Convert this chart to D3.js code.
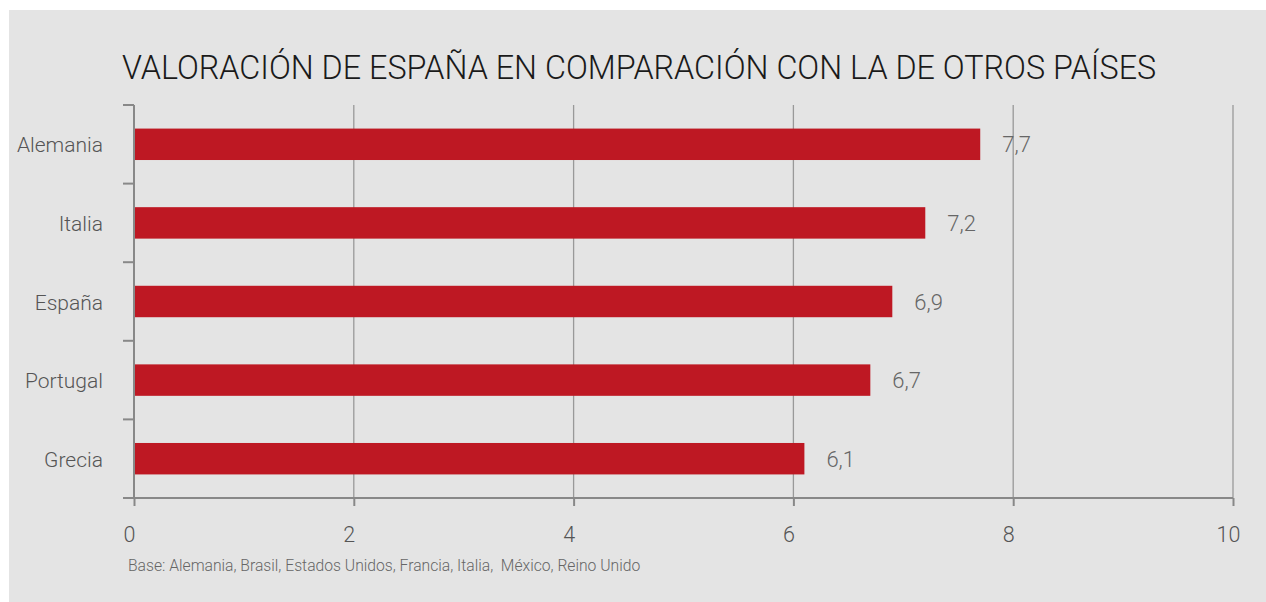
<!DOCTYPE html>
<html><head><meta charset="utf-8">
<script src="https://cdnjs.cloudflare.com/ajax/libs/d3/7.8.5/d3.min.js"></script>
<style>body{margin:0;background:#fff;font-family:Roboto,sans-serif;} svg{display:block;}</style>
</head><body>
<svg id="chart" width="1266" height="602"></svg>
<script>
const categories = ["Alemania", "Italia", "España", "Portugal", "Grecia"];
const values = [7.7, 7.2, 6.9, 6.7, 6.1];
const valueLabels = ["7,7", "7,2", "6,9", "6,7", "6,1"];
const xTicks = [0, 2, 4, 6, 8, 10];
const title = "VALORACIÓN DE ESPAÑA EN COMPARACIÓN CON LA DE OTROS PAÍSES";
const note = "Base: Alemania, Brasil, Estados Unidos, Francia, Italia,  México, Reino Unido";

(function () {
const svg = d3.select("#chart");
svg.append("rect").attr("x", 9).attr("y", 10).attr("width", 1257).attr("height", 592).attr("fill", "#e4e4e4");

const pL = 134, pR = 1233, pT = 105, pB = 498;
const x = d3.scaleLinear().domain([0, 10]).range([pL, pR]);
const y = d3.scaleBand().domain(categories).range([pT, pB]).paddingInner(0.6).paddingOuter(0.3);

svg.append("text").attr("x", 122).attr("y", 78.5).attr("font-size", 32.3).attr("font-weight", 300)
  .attr("fill", "#1a1a1a").text(title);

// grid
svg.append("g").selectAll("line").data(xTicks.slice(1)).join("line")
  .attr("x1", d => x(d)).attr("x2", d => x(d)).attr("y1", pT).attr("y2", pB)
  .attr("stroke", "#999").attr("stroke-width", 1.3);

// bars
svg.append("g").selectAll("rect").data(categories).join("rect")
  .attr("x", x(0)).attr("y", d => y(d)).attr("height", y.bandwidth())
  .attr("width", (d, i) => x(values[i]) - x(0)).attr("fill", "#be1823");

// value labels
svg.append("g").selectAll("text").data(categories).join("text")
  .attr("x", (d, i) => x(values[i]) + 22).attr("y", d => y(d) + y.bandwidth() / 2 + 8)
  .attr("font-size", 22).attr("font-weight", 300).attr("fill", "#666")
  .text((d, i) => valueLabels[i]);

// x axis
const xAxis = d3.axisBottom(x).tickValues(xTicks).tickSize(8).tickSizeOuter(0).tickPadding(0)
  .tickFormat(d3.format("d"));
const gx = svg.append("g").attr("transform", `translate(0,${pB})`).call(xAxis);
gx.select(".domain").remove();
gx.append("line").attr("x1", pL - 11).attr("x2", pR).attr("stroke", "#888").attr("stroke-width", 2);
gx.selectAll(".tick line").attr("stroke", "#888").attr("stroke-width", 2);
gx.selectAll(".tick text").attr("font-family", "Roboto").attr("font-size", 21.5).attr("font-weight", 300)
  .attr("fill", "#555").attr("dy", null).attr("y", 43.5).attr("x", -5);

// y axis
const gy = svg.append("g").attr("transform", `translate(${pL},0)`);
gy.append("line").attr("y1", pT).attr("y2", pB).attr("stroke", "#888").attr("stroke-width", 2);
const bounds = categories.map(c => y(c) - y.step() * y.paddingInner() / 2);
bounds.push(pB);
gy.selectAll("line.tk").data(bounds).join("line").attr("class", "tk")
  .attr("x1", -11).attr("x2", 0).attr("y1", d => d).attr("y2", d => d)
  .attr("stroke", "#888").attr("stroke-width", 2);
gy.selectAll("text").data(categories).join("text")
  .attr("x", -31).attr("y", d => y(d) + y.bandwidth() / 2 + 8)
  .attr("text-anchor", "end").attr("font-size", 21).attr("font-weight", 300).attr("fill", "#555")
  .text(d => d);

svg.append("text").attr("x", 128).attr("y", 571).attr("font-size", 15.7).attr("font-weight", 300)
  .attr("fill", "#666").style("white-space", "pre").text(note);
})();
</script>
</body></html>
